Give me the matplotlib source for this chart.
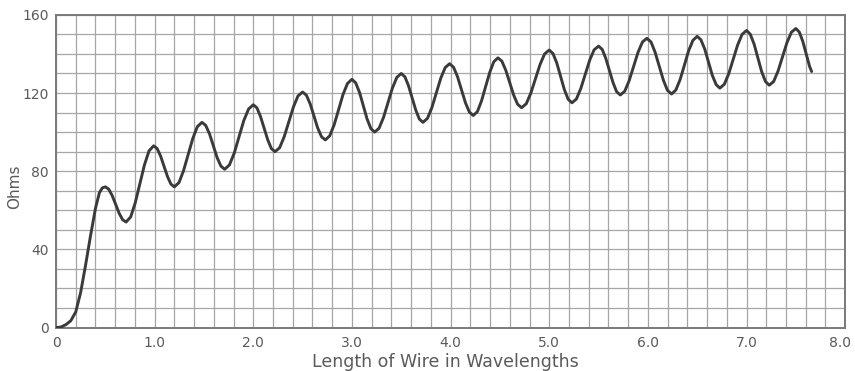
import matplotlib
matplotlib.use("Agg")
import matplotlib.pyplot as plt
import matplotlib.transforms as mtransforms
from matplotlib.ticker import MultipleLocator

# Length of wire (wavelengths) and radiation resistance (ohms)
length_wl = [
    0.00, 0.05, 0.10, 0.15, 0.20, 0.25, 0.30, 0.35, 0.40, 0.44, 0.47, 0.50,
    0.535, 0.57, 0.605, 0.64, 0.675, 0.71,
    0.757, 0.803, 0.85, 0.897, 0.943, 0.99,
    1.025, 1.06, 1.095, 1.13, 1.165, 1.20,
    1.247, 1.293, 1.34, 1.387, 1.433, 1.48,
    1.518, 1.557, 1.595, 1.633, 1.672, 1.71,
    1.758, 1.807, 1.855, 1.903, 1.952, 2.00,
    2.037, 2.073, 2.11, 2.147, 2.183, 2.22,
    2.267, 2.313, 2.36, 2.407, 2.453, 2.50,
    2.538, 2.577, 2.615, 2.653, 2.692, 2.73,
    2.775, 2.82, 2.865, 2.91, 2.955, 3.00,
    3.038, 3.077, 3.115, 3.153, 3.192, 3.23,
    3.275, 3.32, 3.365, 3.41, 3.455, 3.50,
    3.537, 3.573, 3.61, 3.647, 3.683, 3.72,
    3.765, 3.81, 3.855, 3.90, 3.945, 3.99,
    4.03, 4.07, 4.11, 4.15, 4.19, 4.23,
    4.272, 4.313, 4.355, 4.397, 4.438, 4.48,
    4.52, 4.56, 4.60, 4.64, 4.68, 4.72,
    4.767, 4.813, 4.86, 4.907, 4.953, 5.00,
    5.038, 5.077, 5.115, 5.153, 5.192, 5.23,
    5.275, 5.32, 5.365, 5.41, 5.455, 5.50,
    5.537, 5.573, 5.61, 5.647, 5.683, 5.72,
    5.765, 5.81, 5.855, 5.90, 5.945, 5.99,
    6.032, 6.073, 6.115, 6.157, 6.198, 6.24,
    6.283, 6.327, 6.37, 6.413, 6.457, 6.50,
    6.538, 6.577, 6.615, 6.653, 6.692, 6.73,
    6.775, 6.82, 6.865, 6.91, 6.955, 7.00,
    7.038, 7.077, 7.115, 7.153, 7.192, 7.23,
    7.275, 7.32, 7.365, 7.41, 7.455, 7.50,
    7.535, 7.57, 7.605, 7.64, 7.66,
]
resistance_ohms = [
    0.0, 0.3, 1.5, 3.5, 8.0, 18.0, 32.0, 47.0, 61.0, 69.0, 71.5, 72.0,
    70.8, 67.5, 63.0, 58.5, 55.2, 54.0,
    56.6, 63.8, 73.5, 83.3, 90.4, 93.0,
    91.6, 87.8, 82.5, 77.3, 73.4, 72.0,
    74.2, 80.3, 88.5, 96.8, 102.8, 105.0,
    103.4, 99.0, 93.0, 87.0, 82.6, 81.0,
    83.2, 89.3, 97.5, 105.8, 111.8, 114.0,
    112.4, 108.0, 102.0, 96.0, 91.6, 90.0,
    92.0, 97.6, 105.3, 112.9, 118.5, 120.5,
    118.9, 114.4, 108.3, 102.1, 97.6, 96.0,
    98.1, 103.8, 111.5, 119.3, 124.9, 127.0,
    125.2, 120.3, 113.5, 106.8, 101.8, 100.0,
    102.0, 107.5, 115.0, 122.5, 128.0, 130.0,
    128.3, 123.8, 117.5, 111.3, 106.7, 105.0,
    107.0, 112.5, 120.0, 127.5, 133.0, 135.0,
    133.2, 128.4, 121.8, 115.1, 110.3, 108.5,
    110.5, 115.9, 123.3, 130.6, 136.0, 138.0,
    136.3, 131.6, 125.3, 118.9, 114.2, 112.5,
    114.5, 119.9, 127.3, 134.6, 140.0, 142.0,
    140.2, 135.3, 128.5, 121.8, 116.8, 115.0,
    116.9, 122.3, 129.5, 136.8, 142.1, 144.0,
    142.3, 137.8, 131.5, 125.3, 120.7, 119.0,
    120.9, 126.3, 133.5, 140.8, 146.1, 148.0,
    146.1, 140.9, 133.8, 126.6, 121.4, 119.5,
    121.5, 126.9, 134.3, 141.6, 147.0, 149.0,
    147.2, 142.4, 135.8, 129.1, 124.3, 122.5,
    124.5, 129.9, 137.3, 144.6, 150.0, 152.0,
    150.1, 145.0, 138.0, 131.0, 125.9, 124.0,
    125.9, 131.3, 138.5, 145.8, 151.1, 153.0,
    151.2, 146.5, 140.0, 133.5, 131.0,
]

x_ticks = [0, 1, 2, 3, 4, 5, 6, 7, 8]
x_tick_labels = ["0", "1.0", "2.0", "3.0", "4.0", "5.0", "6.0", "7.0", "8.0"]
y_ticks = [0, 40, 80, 120, 160]
y_tick_labels = ["0", "40", "80", "120", "160"]

text_color = "#5a5a5a"
grid_color = "#a6a6a6"

fig = plt.figure(figsize=(8.55, 3.71), dpi=100)
ax = fig.add_axes([0.0655, 0.117, 0.923, 0.843])

ax.plot(length_wl, resistance_ohms, color="#3a3a3a", lw=2.1, solid_capstyle="round", zorder=3)

ax.set_xlim(0, 8)
ax.set_ylim(0, 160)
ax.set_xticks(x_ticks)
ax.set_xticklabels(x_tick_labels)
ax.set_yticks(y_ticks)
ax.set_yticklabels(y_tick_labels)
ax.xaxis.set_minor_locator(MultipleLocator(0.2))
ax.yaxis.set_minor_locator(MultipleLocator(10))
ax.grid(which="both", color=grid_color, lw=0.9)
ax.set_axisbelow(True)
ax.tick_params(which="both", length=0, labelsize=10, labelcolor=text_color)
ax.tick_params(axis="x", pad=6)
ax.tick_params(axis="y", pad=5)
for s in ax.spines.values():
    s.set_color("#7a7a7a")
    s.set_linewidth(1.4)

# nudge the last x label so it stays inside the figure
last = ax.get_xticklabels()[-1]
last.set_transform(last.get_transform() + mtransforms.ScaledTranslation(-5 / 100, 0, fig.dpi_scale_trans))

ax.set_xlabel("Length of Wire in Wavelengths", fontsize=12.5, color=text_color)
ax.xaxis.set_label_coords((445 - 56) / 789, -0.1264)
ax.xaxis.label.set_verticalalignment("baseline")
ax.set_ylabel("Ohms", fontsize=11, color=text_color)
ax.yaxis.set_label_coords(-0.052, 0.45)
ax.yaxis.label.set_verticalalignment("center")

fig.savefig("out.png", dpi=100)
